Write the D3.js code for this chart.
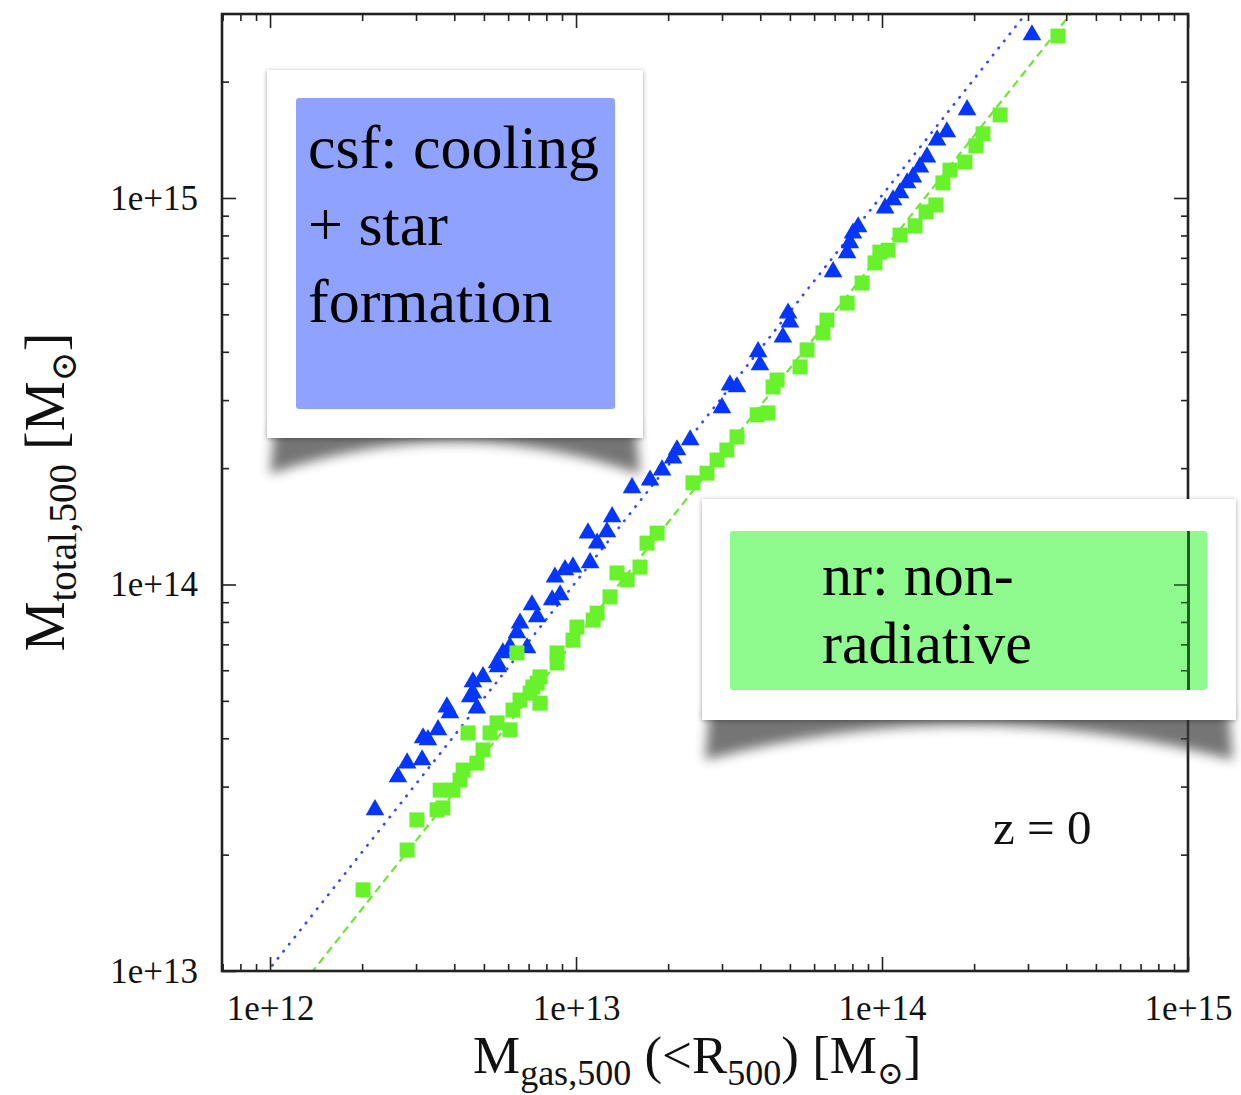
<!DOCTYPE html>
<html>
<head>
<meta charset="utf-8">
<script src="https://cdn.jsdelivr.net/npm/d3@7"></script>
<style>
  body { margin: 0; background: #fff; }
  svg { display: block; font-family: "Liberation Serif", "Times New Roman", serif; }
</style>
</head>
<body>
<svg id="chart" width="1241" height="1095"></svg>
<script>
// log10 masses (csf = blue triangles, nr = green squares)
var csfLogGas = [12.343,12.418,12.448,12.497,12.500,12.516,12.549,12.578,12.588,12.654,12.663,12.676,12.696,12.663,12.742,12.745,12.761,12.784,12.807,12.817,12.840,12.856,12.873,12.922,12.931,12.948,12.964,12.990,13.039,13.046,13.069,13.101,13.118,13.183,13.242,13.281,13.317,13.330,13.373,13.477,13.503,13.526,13.595,13.601,13.676,13.693,13.699,13.840,13.886,13.895,13.905,13.922,14.010,14.036,14.059,14.082,14.101,14.124,14.147,14.180,14.212,14.278,14.490];
var csfLogTot = [13.417,13.502,13.538,13.546,13.603,13.598,13.624,13.683,13.668,13.709,13.748,13.680,13.761,13.719,13.797,13.787,13.823,13.838,13.875,13.900,13.836,13.947,13.916,13.960,14.019,13.973,14.038,14.045,14.133,14.056,14.107,14.136,14.175,14.250,14.270,14.296,14.327,14.348,14.374,14.457,14.516,14.511,14.602,14.568,14.640,14.702,14.679,14.809,14.858,14.884,14.909,14.925,14.974,14.995,15.013,15.039,15.054,15.080,15.106,15.150,15.171,15.228,15.422];
var nrLogGas = [12.304,12.448,12.480,12.546,12.565,12.556,12.598,12.621,12.631,12.647,12.676,12.696,12.719,12.742,12.784,12.794,12.817,12.850,12.873,12.882,12.807,12.859,12.882,12.938,12.938,12.990,13.003,13.056,13.069,13.111,13.134,13.167,13.209,13.232,13.265,13.382,13.428,13.461,13.493,13.526,13.592,13.627,13.644,13.657,13.732,13.755,13.807,13.820,13.886,13.935,13.977,13.993,14.020,14.059,14.108,14.144,14.176,14.199,14.222,14.271,14.307,14.330,14.386,14.575];
var nrLogTot = [13.210,13.313,13.391,13.417,13.422,13.468,13.468,13.494,13.520,13.616,13.538,13.572,13.616,13.642,13.624,13.675,13.701,13.719,13.745,13.693,13.823,13.735,13.761,13.797,13.823,13.856,13.890,13.908,13.926,13.968,14.030,14.012,14.045,14.107,14.133,14.263,14.288,14.322,14.348,14.382,14.439,14.444,14.511,14.529,14.563,14.607,14.651,14.684,14.728,14.780,14.832,14.860,14.865,14.904,14.928,14.964,14.982,15.039,15.072,15.093,15.135,15.166,15.215,15.419];

// fits: log Mtot = slope * log Mgas + offset
var csfFit = {slope: 1.0, offset: 1.007};
var nrFit = {slope: 1.0, offset: 0.86};

var xTickLabels = ["1e+12", "1e+13", "1e+14", "1e+15"];
var yTickLabels = ["1e+13", "1e+14", "1e+15"];
var csfLabel = ["csf: cooling", "+ star", "formation"];
var nrLabel = ["nr: non-", "radiative"];
var redshiftLabel = "z = 0";

var margin = {top: 14, left: 222};
var width = 1188 - 222;
var height = 971 - 14;

var svg = d3.select("#chart");
var defs = svg.append("defs");

defs.append("clipPath").attr("id", "plotClip")
    .append("rect").attr("width", width).attr("height", height);

var curl = defs.append("filter").attr("id", "curl")
    .attr("x", "-10%").attr("y", "-100%").attr("width", "120%").attr("height", "300%");
curl.append("feGaussianBlur").attr("stdDeviation", 6);

var cardShadow = defs.append("filter").attr("id", "cardShadow")
    .attr("x", "-5%").attr("y", "-5%").attr("width", "110%").attr("height", "110%");
cardShadow.append("feDropShadow").attr("dx", 0).attr("dy", 1)
    .attr("stdDeviation", 2.5).attr("flood-color", "#000").attr("flood-opacity", 0.35);

var plot = svg.append("g").attr("transform", "translate(" + margin.left + "," + margin.top + ")");

var x = d3.scaleLog().domain([Math.pow(10, 11.843), 1e15]).range([0, width]);
var y = d3.scaleLog().domain([1e13, Math.pow(10, 15.476)]).range([height, 0]);

function isMajor(v) { return Math.abs(Math.log10(v) - Math.round(Math.log10(v))) < 1e-6; }

var xAll = x.ticks();
var yAll = y.ticks().filter(function(v) { return v <= y.domain()[1]; });
var xMajor = xAll.filter(isMajor), xMinor = xAll.filter(function(v) { return !isMajor(v); });
var yMajor = yAll.filter(isMajor), yMinor = yAll.filter(function(v) { return !isMajor(v); });

var majorLen = 14, minorLen = 7;

function labelFor(list, labels) {
  return function(v) { return labels[list.indexOf(v)] || ""; };
}

// fit lines
var fitLine = d3.line()
    .x(function(d) { return x(d[0]); })
    .y(function(d) { return y(d[1]); });
function fitPoints(fit) {
  return x.domain().map(function(g) {
    return [g, Math.pow(10, fit.slope * Math.log10(g) + fit.offset)];
  });
}

var lines = plot.append("g").attr("clip-path", "url(#plotClip)");
lines.append("path")
    .attr("d", fitLine(fitPoints(csfFit)))
    .attr("fill", "none")
    .attr("stroke", "#3347ff")
    .attr("stroke-width", 2.6)
    .attr("stroke-linecap", "round")
    .attr("stroke-dasharray", "0.5,8.5");
lines.append("path")
    .attr("d", fitLine(fitPoints(nrFit)))
    .attr("fill", "none")
    .attr("stroke", "#6fe33a")
    .attr("stroke-width", 2.2)
    .attr("stroke-dasharray", "8,5");

// markers
var pts = plot.append("g").attr("clip-path", "url(#plotClip)");
pts.selectAll(".tri")
    .data(csfLogGas)
    .enter()
    .append("path")
    .attr("class", "tri")
    .attr("transform", function(d, i) {
      return "translate(" + x(Math.pow(10, d)) + "," + y(Math.pow(10, csfLogTot[i])) + ")";
    })
    .attr("d", d3.symbol().type(d3.symbolTriangle).size(150))
    .attr("fill", "#0536ff");
pts.selectAll(".sq")
    .data(nrLogGas)
    .enter()
    .append("path")
    .attr("class", "sq")
    .attr("transform", function(d, i) {
      return "translate(" + x(Math.pow(10, d)) + "," + y(Math.pow(10, nrLogTot[i])) + ")";
    })
    .attr("d", d3.symbol().type(d3.symbolSquare).size(225))
    .attr("fill", "#68f22c");

// axes, ticks pointing inward on all four sides
function drawAxes(g, color) {
  g.append("g").attr("transform", "translate(0," + height + ")")
      .call(d3.axisBottom(x).tickValues(xMinor).tickSize(-minorLen).tickFormat(""));
  g.append("g").attr("transform", "translate(0," + height + ")")
      .attr("class", "x-major")
      .call(d3.axisBottom(x).tickValues(xMajor).tickSize(-majorLen).tickPadding(24)
        .tickFormat(labelFor(xMajor, xTickLabels)));
  g.append("g").call(d3.axisTop(x).tickValues(xMinor).tickSize(-minorLen).tickFormat(""));
  g.append("g").call(d3.axisTop(x).tickValues(xMajor).tickSize(-majorLen).tickFormat(""));

  g.append("g").call(d3.axisLeft(y).tickValues(yMinor).tickSize(-minorLen).tickFormat(""));
  g.append("g").attr("class", "y-major")
      .call(d3.axisLeft(y).tickValues(yMajor).tickSize(-majorLen).tickPadding(24)
        .tickFormat(labelFor(yMajor, yTickLabels)));
  g.append("g").attr("transform", "translate(" + width + ",0)")
      .call(d3.axisRight(y).tickValues(yMinor).tickSize(-minorLen).tickFormat(""));
  g.append("g").attr("transform", "translate(" + width + ",0)")
      .call(d3.axisRight(y).tickValues(yMajor).tickSize(-majorLen).tickFormat(""));

  g.selectAll(".domain").remove();
  g.selectAll(".tick line").attr("stroke", color).attr("stroke-width", 1.6);
  g.selectAll(".tick text")
      .attr("fill", "#111")
      .attr("font-family", "Liberation Serif, serif")
      .attr("font-size", 35);
  g.append("rect")
      .attr("width", width).attr("height", height)
      .attr("fill", "none").attr("stroke", color).attr("stroke-width", 2.6);
}
var axes = plot.append("g");
drawAxes(axes, "#222");

// axis titles
var xTitle = svg.append("text")
    .attr("x", 473).attr("y", 1073)
    .attr("font-size", 53)
    .attr("fill", "#111");
xTitle.append("tspan").text("M");
xTitle.append("tspan").attr("font-size", 36).attr("dy", 12).text("gas,500");
xTitle.append("tspan").attr("dy", -12).text(" (<R");
xTitle.append("tspan").attr("font-size", 36).attr("dy", 12).text("500");
xTitle.append("tspan").attr("dy", -12).text(") [M");
xTitle.append("tspan").attr("font-size", 32).attr("dy", 11).attr("font-family", "DejaVu Serif").text("⊙");
xTitle.append("tspan").attr("dy", -11).text("]");

var yTitle = svg.append("text")
    .attr("transform", "translate(64,492) rotate(-90)")
    .attr("text-anchor", "middle")
    .attr("font-size", 56)
    .attr("fill", "#111");
yTitle.append("tspan").text("M");
yTitle.append("tspan").attr("font-size", 39).attr("dy", 12).text("total,500");
yTitle.append("tspan").attr("dy", -12).text(" [M");
yTitle.append("tspan").attr("font-size", 36).attr("dy", 12).attr("font-family", "DejaVu Serif").text("⊙");
yTitle.append("tspan").attr("dy", -12).text("]");

svg.append("text")
    .attr("x", 993).attr("y", 844)
    .attr("font-size", 49)
    .attr("fill", "#111")
    .text(redshiftLabel);

// legend cards with curled-paper shadow
function drawCard(c) {
  var g = svg.append("g");
  var x0 = c.x, x1 = c.x + c.w, yb = c.y + c.h;
  var mid = (x0 + x1) / 2;
  var cy = yb + 2 * c.sag - c.depth;
  g.append("path")
      .attr("d", "M" + (x0 + 8) + "," + (yb - 14) + "L" + (x1 - 8) + "," + (yb - 14) +
        "L" + (x1 - 3) + "," + (yb + c.depth) + "Q" + mid + "," + cy + " " + (x0 + 3) + "," + (yb + c.depth) + "Z")
      .attr("fill", "#3a3a3a")
      .attr("opacity", 0.7)
      .attr("filter", "url(#curl)");
  g.append("rect")
      .attr("x", x0).attr("y", c.y).attr("width", c.w).attr("height", c.h)
      .attr("fill", "#fff")
      .attr("filter", "url(#cardShadow)");
  g.append("rect")
      .attr("x", c.ix).attr("y", c.iy).attr("width", c.iw).attr("height", c.ih)
      .attr("rx", 3)
      .attr("fill", c.fill);
  return g;
}

var csfCard = drawCard({x: 267, y: 70, w: 376, h: 368, depth: 36, sag: 4,
  ix: 296, iy: 98, iw: 319, ih: 311, fill: "#8fa2fd"});
csfCard.selectAll("text.lbl")
    .data(csfLabel)
    .enter()
    .append("text")
    .attr("class", "lbl")
    .attr("x", 308)
    .attr("y", function(d, i) { return 168 + i * 77; })
    .attr("font-size", 62)
    .attr("fill", "#000")
    .text(function(d) { return d; });

var nrCard = drawCard({x: 702, y: 499, w: 534, h: 221, depth: 40, sag: 5,
  ix: 730, iy: 531, iw: 477, ih: 159, fill: "#8ffb8f"});

// right axis shows through the green box
defs.append("clipPath").attr("id", "greenClip")
    .append("rect").attr("x", 730 - margin.left).attr("y", 531 - margin.top).attr("width", 477).attr("height", 159);
var through = nrCard.append("g")
    .attr("transform", "translate(" + margin.left + "," + margin.top + ")")
    .attr("clip-path", "url(#greenClip)");
through.append("g").attr("transform", "translate(" + width + ",0)")
    .call(d3.axisRight(y).tickValues(yMinor).tickSize(-minorLen).tickFormat(""));
through.append("g").attr("transform", "translate(" + width + ",0)")
    .call(d3.axisRight(y).tickValues(yMajor).tickSize(-majorLen).tickFormat(""));
through.selectAll(".domain").attr("stroke", "#1d5a1d").attr("stroke-width", 2.6);
through.selectAll(".tick line").attr("stroke", "#1d5a1d").attr("stroke-width", 1.6);

nrCard.selectAll("text.lbl")
    .data(nrLabel)
    .enter()
    .append("text")
    .attr("class", "lbl")
    .attr("x", 822)
    .attr("y", function(d, i) { return 595 + i * 68; })
    .attr("font-size", 60)
    .attr("fill", "#000")
    .text(function(d) { return d; });
</script>
</body>
</html>
